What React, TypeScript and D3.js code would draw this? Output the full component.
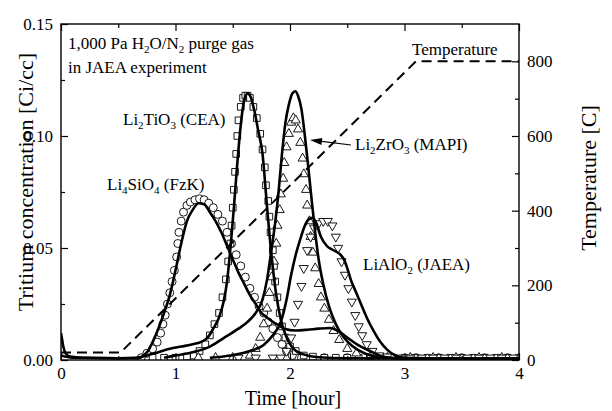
import { useEffect, useRef } from 'react'
import * as d3 from 'd3'

type Pt = [number, number]

// time [hour], tritium concentration [Ci/cc]
const li4sio4Meas: Pt[] = [
  [0.70, 0.001], [0.75, 0.003], [0.80, 0.005], [0.84, 0.008], [0.87, 0.012], [0.89, 0.016],
  [0.91, 0.020], [0.93, 0.025], [0.95, 0.030], [0.97, 0.035], [0.99, 0.040], [1.01, 0.046],
  [1.02, 0.052], [1.03, 0.057], [1.05, 0.062], [1.07, 0.066], [1.10, 0.069], [1.13, 0.0705],
  [1.17, 0.0715], [1.21, 0.072], [1.25, 0.0715], [1.29, 0.070], [1.33, 0.068], [1.37, 0.065],
  [1.41, 0.062], [1.45, 0.057], [1.49, 0.052], [1.53, 0.047], [1.57, 0.042], [1.61, 0.037],
  [1.65, 0.032], [1.69, 0.028], [1.73, 0.024], [1.77, 0.021], [1.81, 0.017], [1.85, 0.014],
  [1.89, 0.010], [1.93, 0.007], [1.97, 0.004], [2.02, 0.002], [2.10, 0.001], [2.30, 0.001],
  [2.50, 0.001], [2.70, 0.001], [2.90, 0.001], [3.10, 0.001], [3.30, 0.001], [3.50, 0.001],
  [3.70, 0.001], [3.90, 0.001],
]
const li4sio4Model: Pt[] = [
  [0.00, 0.012], [0.01, 0.009], [0.02, 0.006], [0.04, 0.003], [0.08, 0.0015], [0.20, 0.001],
  [0.50, 0.0008], [0.68, 0.0008], [0.72, 0.002], [0.76, 0.004], [0.80, 0.008], [0.85, 0.014],
  [0.90, 0.021], [0.95, 0.029], [1.00, 0.040], [1.05, 0.052], [1.10, 0.062], [1.15, 0.067],
  [1.20, 0.070], [1.25, 0.0695], [1.30, 0.066], [1.35, 0.062], [1.40, 0.057], [1.45, 0.051],
  [1.50, 0.045], [1.55, 0.039], [1.60, 0.034], [1.65, 0.029], [1.70, 0.025], [1.75, 0.021],
  [1.80, 0.019], [1.85, 0.017], [1.90, 0.0155], [1.95, 0.014], [2.05, 0.0132], [2.15, 0.0135],
  [2.25, 0.014], [2.35, 0.0143], [2.42, 0.013], [2.50, 0.010], [2.60, 0.0065], [2.70, 0.004],
  [2.80, 0.0017], [2.90, 0.0008], [3.00, 0.0005], [4.00, 0.0005],
]

const li2tio3Meas: Pt[] = [
  [0.80, 0.001], [0.90, 0.001], [1.00, 0.001], [1.10, 0.0015], [1.16, 0.002], [1.21, 0.004],
  [1.26, 0.007], [1.30, 0.011], [1.34, 0.016], [1.38, 0.021], [1.41, 0.028], [1.44, 0.036],
  [1.46, 0.044], [1.48, 0.052], [1.49, 0.060], [1.50, 0.068], [1.51, 0.076], [1.52, 0.084],
  [1.53, 0.092], [1.54, 0.100], [1.55, 0.107], [1.57, 0.113], [1.59, 0.117], [1.61, 0.118],
  [1.63, 0.118], [1.65, 0.117], [1.68, 0.113], [1.71, 0.108], [1.74, 0.101], [1.76, 0.094],
  [1.78, 0.086], [1.79, 0.078], [1.81, 0.071], [1.82, 0.064], [1.83, 0.057], [1.85, 0.049],
  [1.86, 0.042], [1.87, 0.035], [1.89, 0.028], [1.91, 0.021], [1.93, 0.015], [1.96, 0.010],
  [2.00, 0.006], [2.05, 0.004], [2.12, 0.002], [2.20, 0.0015], [2.30, 0.001], [2.40, 0.001],
  [2.50, 0.001], [2.60, 0.001], [2.70, 0.001], [2.80, 0.001], [2.90, 0.001], [3.00, 0.001],
  [3.10, 0.001], [3.20, 0.001], [3.30, 0.001], [3.40, 0.001], [3.50, 0.001], [3.60, 0.001],
  [3.70, 0.001], [3.80, 0.001], [3.90, 0.001], [4.00, 0.001],
]
const li2tio3Model: Pt[] = [
  [0.00, 0.002], [0.10, 0.001], [0.50, 0.0008], [0.65, 0.001], [0.75, 0.002], [0.85, 0.0035],
  [0.95, 0.005], [1.05, 0.006], [1.15, 0.007], [1.22, 0.008], [1.28, 0.010], [1.33, 0.014],
  [1.38, 0.019], [1.42, 0.026], [1.45, 0.035], [1.48, 0.050], [1.51, 0.068], [1.54, 0.088],
  [1.57, 0.105], [1.60, 0.116], [1.63, 0.119], [1.66, 0.117], [1.69, 0.111], [1.72, 0.103],
  [1.76, 0.092], [1.80, 0.068], [1.84, 0.046], [1.88, 0.029], [1.92, 0.018], [1.97, 0.010],
  [2.03, 0.005], [2.12, 0.0025], [2.25, 0.0012], [2.50, 0.0008], [4.00, 0.0008],
]

const li2zro3Meas: Pt[] = [
  [1.20, 0.001], [1.35, 0.001], [1.50, 0.001], [1.65, 0.002], [1.70, 0.005], [1.74, 0.010],
  [1.77, 0.016], [1.80, 0.023], [1.82, 0.030], [1.84, 0.037], [1.86, 0.044], [1.88, 0.052],
  [1.89, 0.060], [1.91, 0.067], [1.92, 0.074], [1.94, 0.081], [1.95, 0.088], [1.97, 0.095],
  [1.99, 0.101], [2.01, 0.106], [2.03, 0.108], [2.05, 0.107], [2.07, 0.103], [2.09, 0.097],
  [2.11, 0.090], [2.12, 0.083], [2.14, 0.076], [2.15, 0.069], [2.17, 0.062], [2.18, 0.055],
  [2.20, 0.048], [2.22, 0.041], [2.25, 0.034], [2.27, 0.028], [2.30, 0.023], [2.34, 0.018],
  [2.38, 0.013], [2.43, 0.009], [2.50, 0.005], [2.58, 0.003], [2.70, 0.0015], [2.85, 0.001],
  [3.05, 0.001], [3.25, 0.001], [3.45, 0.001], [3.65, 0.001], [3.85, 0.001],
]
const li2zro3Model: Pt[] = [
  [0.90, 0.001], [1.00, 0.002], [1.16, 0.0036], [1.30, 0.006], [1.42, 0.0098], [1.55, 0.014],
  [1.63, 0.017], [1.70, 0.021], [1.76, 0.027], [1.80, 0.036], [1.84, 0.050], [1.87, 0.061],
  [1.90, 0.075], [1.93, 0.092], [1.96, 0.106], [1.99, 0.114], [2.02, 0.119], [2.045, 0.120],
  [2.07, 0.118], [2.10, 0.112], [2.13, 0.100], [2.16, 0.086], [2.19, 0.071], [2.22, 0.057],
  [2.25, 0.045], [2.29, 0.034], [2.34, 0.024], [2.40, 0.016], [2.47, 0.010], [2.55, 0.006],
  [2.65, 0.003], [2.80, 0.0012], [3.00, 0.0008], [4.00, 0.0008],
]

const lialo2Meas: Pt[] = [
  [1.55, 0.001], [1.70, 0.001], [1.85, 0.001], [1.92, 0.001], [1.97, 0.004], [2.01, 0.010],
  [2.04, 0.017], [2.07, 0.025], [2.10, 0.033], [2.12, 0.041], [2.15, 0.049], [2.18, 0.055],
  [2.21, 0.059], [2.25, 0.061], [2.29, 0.062], [2.33, 0.062], [2.37, 0.060], [2.40, 0.055],
  [2.42, 0.050], [2.45, 0.044], [2.48, 0.038], [2.51, 0.032], [2.54, 0.026], [2.57, 0.020],
  [2.60, 0.015], [2.63, 0.011], [2.67, 0.007], [2.72, 0.004], [2.78, 0.002], [2.85, 0.0015],
  [2.95, 0.001], [3.05, 0.001], [3.15, 0.001], [3.25, 0.001], [3.35, 0.001], [3.45, 0.001],
  [3.55, 0.001], [3.65, 0.001], [3.75, 0.001], [3.85, 0.001], [3.95, 0.001],
]
const lialo2Model: Pt[] = [
  [1.30, 0.001], [1.48, 0.002], [1.65, 0.004], [1.77, 0.0067], [1.85, 0.011], [1.92, 0.017],
  [1.97, 0.027], [2.01, 0.038], [2.05, 0.047], [2.09, 0.054], [2.13, 0.060], [2.17, 0.063],
  [2.20, 0.0635], [2.23, 0.061], [2.27, 0.055], [2.32, 0.051], [2.38, 0.049], [2.43, 0.0475],
  [2.47, 0.045], [2.50, 0.041], [2.53, 0.036], [2.57, 0.031], [2.62, 0.025], [2.67, 0.019],
  [2.73, 0.013], [2.79, 0.008], [2.85, 0.0045], [2.92, 0.002], [3.00, 0.001], [3.20, 0.0008],
  [4.00, 0.0008],
]

// purge temperature [C]
const tempTimes = [0, 0.52, 3.1, 4]
const tempValues = [20, 20, 800, 800]

const xTicks = [0, 1, 2, 3, 4]
const xMinor = [0.5, 1.5, 2.5, 3.5]
const leftTicks = [0, 0.05, 0.1, 0.15]
const leftMinor = [0.025, 0.075, 0.125]
const rightTicks = [0, 200, 400, 600, 800]
const rightMinor = [100, 300, 500, 700]

const FONT = '"Liberation Serif", "Times New Roman", serif'

export default function App() {
  const ref = useRef<SVGSVGElement>(null)

  useEffect(() => {
    const L = 61, R = 519, T = 24, B = 360
    const svg = d3.select(ref.current)
    svg.selectAll('*').remove()

    const x = d3.scaleLinear().domain([0, 4]).range([L, R])
    const y = d3.scaleLinear().domain([0, 0.15]).range([B, T])
    const yT = d3.scaleLinear().domain([0, 900]).range([B, T])

    svg.append('defs').append('clipPath').attr('id', 'plotclip')
      .append('rect').attr('x', L).attr('y', T).attr('width', R - L).attr('height', B - T)

    const plot = svg.append('g').attr('clip-path', 'url(#plotclip)')

    // measured points
    const sets: { data: Pt[], type: d3.SymbolType, size: number, rot: number }[] = [
      { data: li4sio4Meas, type: d3.symbolCircle, size: 50, rot: 0 },
      { data: li2tio3Meas, type: d3.symbolSquare, size: 44, rot: 0 },
      { data: li2zro3Meas, type: d3.symbolTriangle, size: 36, rot: 0 },
      { data: lialo2Meas, type: d3.symbolTriangle, size: 36, rot: 180 },
    ]
    sets.forEach(s => {
      const sym = d3.symbol().type(s.type).size(s.size)
      plot.append('g').selectAll('path').data(s.data).join('path')
        .attr('d', sym() as string)
        .attr('transform', d => `translate(${x(d[0])},${y(d[1])}) rotate(${s.rot})`)
        .attr('fill', '#fff')
        .attr('stroke', '#000')
        .attr('stroke-width', 0.9)
    })

    // model curves
    const line = d3.line<Pt>().x(d => x(d[0])).y(d => y(d[1])).curve(d3.curveMonotoneX)
    ;[li4sio4Model, li2tio3Model, li2zro3Model, lialo2Model].forEach(d => {
      plot.append('path').datum(d).attr('d', line)
        .attr('fill', 'none').attr('stroke', '#000').attr('stroke-width', 2.6)
        .attr('stroke-linejoin', 'round')
    })

    // temperature
    const tempLine = d3.line<number>().x(d => x(d)).y((d, i) => yT(tempValues[i]))
    plot.append('path').datum(tempTimes).attr('d', tempLine)
      .attr('fill', 'none').attr('stroke', '#000').attr('stroke-width', 2)
      .attr('stroke-dasharray', '10,6')

    // frame
    svg.append('rect').attr('x', L).attr('y', T).attr('width', R - L).attr('height', B - T)
      .attr('fill', 'none').attr('stroke', '#000').attr('stroke-width', 1.4)

    const styleAxis = (g: any) => {
      g.select('.domain').remove()
      g.selectAll('line').attr('stroke', '#000').attr('stroke-width', 1.2)
      g.selectAll('text').attr('font-family', FONT).attr('font-size', 17).attr('fill', '#000')
    }

    svg.append('g').attr('transform', `translate(0,${B})`)
      .call(d3.axisBottom(x).tickValues(xTicks).tickFormat(d3.format('d')).tickSize(-7).tickPadding(7))
      .call(styleAxis)
    svg.append('g').attr('transform', `translate(0,${B})`)
      .call(d3.axisBottom(x).tickValues(xMinor).tickFormat(() => '').tickSize(-4))
      .call(styleAxis)
    svg.append('g').attr('transform', `translate(0,${T})`)
      .call(d3.axisTop(x).tickValues(xTicks).tickFormat(() => '').tickSize(-7))
      .call(styleAxis)
    svg.append('g').attr('transform', `translate(0,${T})`)
      .call(d3.axisTop(x).tickValues(xMinor).tickFormat(() => '').tickSize(-4))
      .call(styleAxis)

    svg.append('g').attr('transform', `translate(${L},0)`)
      .call(d3.axisLeft(y).tickValues(leftTicks).tickFormat(d3.format('.2f')).tickSize(-7).tickPadding(8))
      .call(styleAxis)
    svg.append('g').attr('transform', `translate(${L},0)`)
      .call(d3.axisLeft(y).tickValues(leftMinor).tickFormat(() => '').tickSize(-4))
      .call(styleAxis)

    svg.append('g').attr('transform', `translate(${R},0)`)
      .call(d3.axisRight(yT).tickValues(rightTicks).tickFormat(d3.format('d')).tickSize(-7).tickPadding(8))
      .call(styleAxis)
    svg.append('g').attr('transform', `translate(${R},0)`)
      .call(d3.axisRight(yT).tickValues(rightMinor).tickFormat(() => '').tickSize(-4))
      .call(styleAxis)

    // axis titles
    svg.append('text').attr('x', (L + R) / 2 + 3).attr('y', 405)
      .attr('text-anchor', 'middle').attr('font-family', FONT).attr('font-size', 20)
      .text('Time [hour]')
    svg.append('text').attr('transform', 'translate(33,182) rotate(-90)')
      .attr('text-anchor', 'middle').attr('font-family', FONT).attr('font-size', 22)
      .text('Tritium concentration [Ci/cc]')
    svg.append('text').attr('transform', 'translate(596,178) rotate(-90)')
      .attr('text-anchor', 'middle').attr('font-family', FONT).attr('font-size', 22)
      .text('Temperature [C]')

    // labels with subscripts, "_2" means subscript 2
    const label = (str: string, lx: number, ly: number) => {
      const t = svg.append('text').attr('x', lx).attr('y', ly)
        .attr('font-family', FONT).attr('font-size', 17).attr('fill', '#000')
      let sub = false
      str.split(/(_\d)/).filter(p => p.length).forEach(p => {
        if (p.startsWith('_')) {
          t.append('tspan').attr('font-size', 11).attr('dy', sub ? 0 : 4).text(p.slice(1))
          sub = true
        } else {
          t.append('tspan').attr('dy', sub ? -4 : 0).text(p)
          sub = false
        }
      })
    }
    label('1,000 Pa H_2O/N_2 purge gas', 68, 49)
    label('in JAEA experiment', 68, 73)
    label('Temperature', 412, 55)
    label('Li_2TiO_3 (CEA)', 123, 125)
    label('Li_4SiO_4 (FzK)', 107, 190)
    label('Li_2ZrO_3 (MAPI)', 355, 150)
    label('LiAlO_2 (JAEA)', 363, 270)

    // arrow to Li2ZrO3
    const tail = [351, 145], tip = [310, 140]
    const dx = tip[0] - tail[0], dy = tip[1] - tail[1]
    const len = Math.hypot(dx, dy), ux = dx / len, uy = dy / len
    svg.append('line').attr('x1', tail[0]).attr('y1', tail[1])
      .attr('x2', tip[0] - ux * 8).attr('y2', tip[1] - uy * 8)
      .attr('stroke', '#000').attr('stroke-width', 1.2)
    const hx = tip[0] - ux * 12, hy = tip[1] - uy * 12
    svg.append('path')
      .attr('d', `M${tip[0]},${tip[1]} L${hx - uy * 3.5},${hy + ux * 3.5} L${hx + uy * 3.5},${hy - ux * 3.5} Z`)
      .attr('fill', '#000')
  }, [])

  return (
    <svg ref={ref} width={612} height={411}
      style={{ position: 'absolute', left: 0, top: 0, background: '#fff' }} />
  )
}
